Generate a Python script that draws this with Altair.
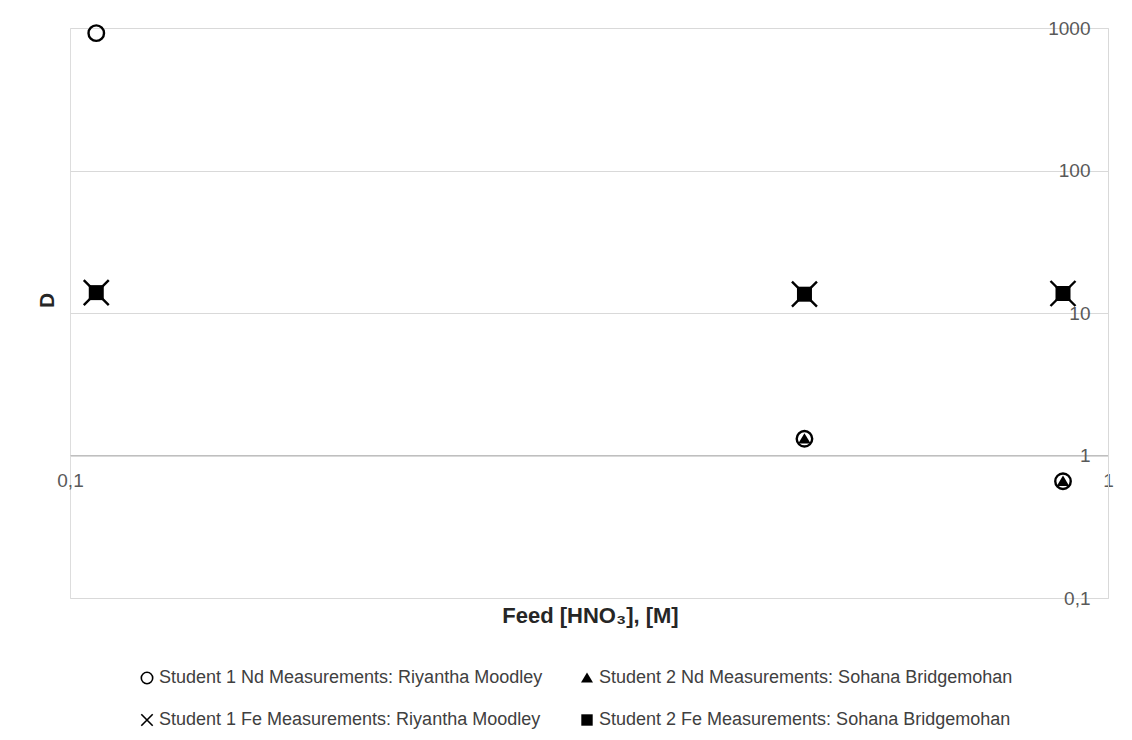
import altair as alt
import pandas as pd

series_names = [
    "Student 1 Nd Measurements: Riyantha Moodley",
    "Student 1 Fe Measurements: Riyantha Moodley",
    "Student 2 Nd Measurements: Sohana Bridgemohan",
    "Student 2 Fe Measurements: Sohana Bridgemohan",
]

nd1_x = [0.106, 0.51, 0.905]
nd1_y = [920, 1.31, 0.66]
fe1_x = [0.106, 0.51, 0.905]
fe1_y = [13.9, 13.55, 13.7]
nd2_x = [0.51, 0.905]
nd2_y = [1.31, 0.66]
fe2_x = [0.106, 0.51, 0.905]
fe2_y = [13.9, 13.55, 13.7]

y_ticks = [0.1, 1, 10, 100, 1000]
x_ticks = [0.1, 1]

rows = []
for name, xs, ys in zip(series_names, [nd1_x, fe1_x, nd2_x, fe2_x], [nd1_y, fe1_y, nd2_y, fe2_y]):
    for xv, yv in zip(xs, ys):
        rows.append({"series": name, "hno3": xv, "D": yv})
df = pd.DataFrame(rows)

X_PATH = "M-1,-1L1,1M1,-1L-1,1"
TRI_PATH = "M0,-0.95L1.05,0.8L-1.05,0.8Z"
marker_sizes = [240, 625, 140, 225]

W, H = 1038, 570
FONT = "Liberation Sans"

legend = alt.Legend(title=None, orient="none", legendX=68, legendY=641,
                    columns=2, columnPadding=34, rowPadding=24,
                    symbolSize=130, labelFont=FONT, labelFontSize=18,
                    labelColor="#404040", labelOffset=3, labelLimit=0,
                    symbolStrokeWidth=1.6)

base = alt.Chart(df).encode(
    x=alt.X("hno3:Q",
            scale=alt.Scale(type="log", domain=[0.1, 1], nice=False),
            axis=alt.Axis(orient="bottom", offset=-143, values=x_ticks, grid=False,
                          ticks=False, tickSize=0, labelPadding=16, labelFlush=False,
                          labelExpr="datum.value < 1 ? '0,1' : '1'",
                          labelFont=FONT, labelFontSize=19, labelColor="#595959",
                          domainColor="#bfbfbf", domainWidth=1,
                          title="Feed [HNO₃], [M]", titleFont=FONT, titleFontSize=22,
                          titleFontWeight="bold", titleColor="#262626",
                          titleX=520, titleY=160, titleAlign="center", titleBaseline="middle")),
    y=alt.Y("D:Q",
            scale=alt.Scale(type="log", domain=[0.1, 1000], nice=False),
            axis=alt.Axis(orient="right", values=y_ticks, grid=True, gridColor="#d9d9d9",
                          ticks=False, tickSize=0, labelPadding=-18, labelAlign="right",
                          labelFlush=False,
                          labelExpr="datum.value < 1 ? '0,1' : format(datum.value, 'd')",
                          labelFont=FONT, labelFontSize=19, labelColor="#595959",
                          domainColor="#d9d9d9",
                          title="D", titleFont=FONT, titleFontSize=21, titleFontWeight="bold",
                          titleColor="#262626", titleAngle=270,
                          titleX=-1061, titleY=272, titleAlign="center", titleBaseline="middle")),
    shape=alt.Shape("series:N",
                    scale=alt.Scale(domain=series_names, range=["circle", X_PATH, TRI_PATH, "square"]),
                    legend=legend),
    fill=alt.Fill("series:N",
                  scale=alt.Scale(domain=series_names, range=["transparent", "transparent", "black", "black"])),
    stroke=alt.Stroke("series:N",
                      scale=alt.Scale(domain=series_names, range=["black", "black", "transparent", "transparent"])),
)

layers = [
    base.transform_filter(alt.datum.series == name)
        .mark_point(filled=True, opacity=1, strokeWidth=2.4, size=s)
    for name, s in zip(series_names, marker_sizes)
]

chart = alt.layer(*layers).properties(
    width=W, height=H,
    autosize=alt.AutoSizeParams(type="none"),
    padding={"left": 62, "top": 20, "right": 16, "bottom": 132},
).configure_view(stroke="#d9d9d9", strokeWidth=1).configure(background="white")

chart.save("out.html", embed_options={"renderer": "svg", "actions": False})
